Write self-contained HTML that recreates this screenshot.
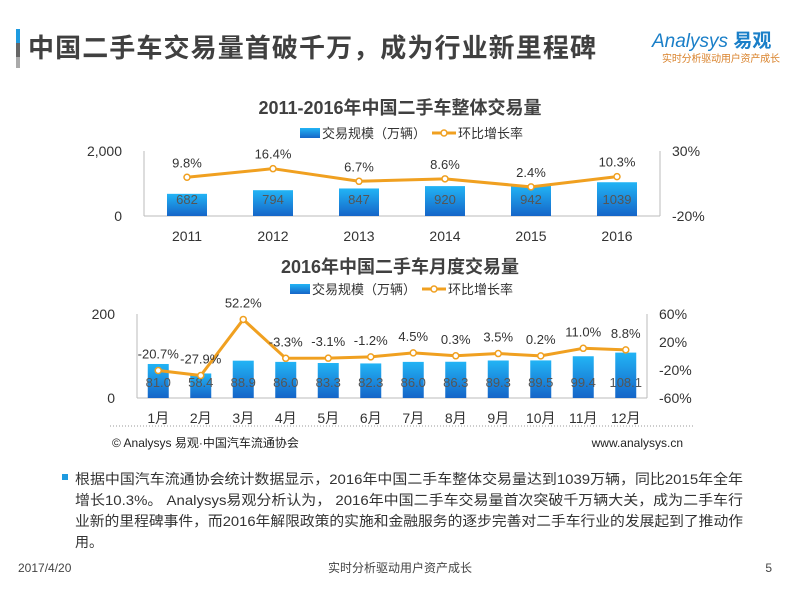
<!DOCTYPE html>
<html><head><meta charset="utf-8">
<style>
body{margin:0;width:800px;height:600px;background:#fff;overflow:hidden;font-family:"Liberation Sans","Noto Sans CJK SC",sans-serif;}
svg text{font-family:"Liberation Sans","Noto Sans CJK SC",sans-serif;}
</style></head>
<body>
<svg width="800" height="600" xmlns="http://www.w3.org/2000/svg">
<defs>
<linearGradient id="bg" x1="0" y1="0" x2="0" y2="1">
<stop offset="0" stop-color="#22b4f5"/><stop offset="1" stop-color="#1565c8"/>
</linearGradient>
</defs>
<g>
<rect x="16" y="29" width="4" height="14" fill="#1e9be0"/>
<rect x="16" y="43" width="4" height="14" fill="#666"/>
<rect x="16" y="57" width="4" height="11" fill="#aaa"/>
<text x="28" y="57" font-size="26" font-weight="bold" fill="#404040" textLength="568">中国二手车交易量首破千万，成为行业新里程碑</text>
<text x="652" y="47" font-size="19" fill="#1a7fc8" font-style="italic">Analysys <tspan font-weight="bold" font-style="normal">易观</tspan></text>
<text x="662" y="62" font-size="10" fill="#d9822b" textLength="118">实时分析驱动用户资产成长</text>
</g>
<g id="c1"></g>
<g id="c2"></g>
<g>
<line x1="110" y1="426" x2="695" y2="426" stroke="#999" stroke-dasharray="1,2"/>
<text x="112" y="447" font-size="12" fill="#222">© Analysys 易观·中国汽车流通协会</text>
<text x="683" y="447" font-size="12" fill="#222" text-anchor="end">www.analysys.cn</text>
</g>
<g font-size="14" fill="#333">
<rect x="62" y="474" width="6" height="6" fill="#1e9be0"/>
<text x="75" y="484" textLength="668" lengthAdjust="spacingAndGlyphs">根据中国汽车流通协会统计数据显示，2016年中国二手车整体交易量达到1039万辆，同比2015年全年</text>
<text x="75" y="505" textLength="668" lengthAdjust="spacingAndGlyphs">增长10.3%。 Analysys易观分析认为， 2016年中国二手车交易量首次突破千万辆大关，成为二手车行</text>
<text x="75" y="526" textLength="668" lengthAdjust="spacingAndGlyphs">业新的里程碑事件，而2016年解限政策的实施和金融服务的逐步完善对二手车行业的发展起到了推动作</text>
<text x="75" y="547">用。</text>
</g>
<g font-size="12" fill="#444">
<text x="18" y="572">2017/4/20</text>
<text x="400" y="572" text-anchor="middle">实时分析驱动用户资产成长</text>
<text x="772" y="572" text-anchor="end">5</text>
</g>
</svg>
<script>
const years=['2011','2012','2013','2014','2015','2016'];
const yearVol=[682,794,847,920,942,1039];
const yearGrowth=[9.8,16.4,6.7,8.6,2.4,10.3];
const yearLeftTicks=['0','2,000'];
const yearRightTicks=['30%','-20%'];
const months=['1月','2月','3月','4月','5月','6月','7月','8月','9月','10月','11月','12月'];
const monthVol=[81.0,58.4,88.9,86.0,83.3,82.3,86.0,86.3,89.3,89.5,99.4,108.1];
const monthGrowth=[-20.7,-27.9,52.2,-3.3,-3.1,-1.2,4.5,0.3,3.5,0.2,11.0,8.8];
const monthLeftTicks=['0','200'];
const monthRightTicks=['60%','20%','-20%','-60%'];
const NS='http://www.w3.org/2000/svg';
function el(p,t,a,txt){const e=document.createElementNS(NS,t);for(const k in a)e.setAttribute(k,a[k]);if(txt!==undefined)e.textContent=txt;p.appendChild(e);return e;}
function chart(g,o){
  const n=o.cats.length,step=(o.x1-o.x0)/n;
  const xc=i=>o.x0+step*(i+.5);
  const yl=v=>o.yb-(v-o.lmin)/(o.lmax-o.lmin)*(o.yb-o.yt);
  const yr=v=>o.yb-(v-o.rmin)/(o.rmax-o.rmin)*(o.yb-o.yt);
  const t=el(g,'text',{x:400,y:o.titleY,'font-size':18,'font-weight':'bold',fill:'#404040','text-anchor':'middle'},o.title);
  
  
  const lg=el(g,'g',{});
  
  
  el(lg,'rect',{x:o.legX,y:o.legY-6,width:20,height:10,fill:'url(#bg)'});
  el(lg,'text',{x:o.legX+22,y:o.legY+4,'font-size':13,fill:'#333'},'交易规模（万辆）');
  el(lg,'line',{x1:o.legX+132,y1:o.legY-1,x2:o.legX+156,y2:o.legY-1,stroke:'#f0a020','stroke-width':3});
  el(lg,'circle',{cx:o.legX+144,cy:o.legY-1,r:3,fill:'#fff',stroke:'#f0a020','stroke-width':1.5});
  el(lg,'text',{x:o.legX+158,y:o.legY+4,'font-size':13,fill:'#333'},'环比增长率');
  el(g,'line',{x1:o.x0,y1:o.yt,x2:o.x0,y2:o.yb,stroke:'#bbb'});
  el(g,'line',{x1:o.x1,y1:o.yt,x2:o.x1,y2:o.yb,stroke:'#bbb'});
  el(g,'line',{x1:o.x0,y1:o.yb,x2:o.x1,y2:o.yb,stroke:'#bbb'});
  o.lt.forEach((s,i)=>{const v=o.lmin+(o.lmax-o.lmin)*i/(o.lt.length-1);
    const e=el(g,'text',{x:o.x0-22,y:yl(v)+5,'font-size':14,fill:'#333','text-anchor':'end'},s);
    
    });
  o.rt.forEach((s,i)=>{const v=o.rmax-(o.rmax-o.rmin)*i/(o.rt.length-1);
    const e=el(g,'text',{x:o.x1+12,y:yr(v)+5,'font-size':14,fill:'#333'},s);
    
    });
  o.cats.forEach((c,i)=>{
    const b=el(g,'rect',{x:xc(i)-o.bw/2,y:yl(o.vol[i]),width:o.bw,height:o.yb-yl(o.vol[i]),fill:'url(#bg)'});
    
    
    const bl=el(g,'text',{x:xc(i),y:o.yb-o.valOff,'font-size':o.fs,fill:'#555','text-anchor':'middle'},o.volFmt(o.vol[i]));
    
    
    const xl=el(g,'text',{x:xc(i),y:o.yb+25,'font-size':14,fill:'#333','text-anchor':'middle'},c);
    
    
  });
  const pts=o.gr.map((v,i)=>xc(i)+','+yr(v)).join(' ');
  const pl=el(g,'polyline',{points:pts,fill:'none',stroke:'#f0a020','stroke-width':3,'stroke-linejoin':'round'});
  
  
  o.gr.forEach((v,i)=>{
    const c=el(g,'circle',{cx:xc(i),cy:yr(v),r:3,fill:'#fff',stroke:'#f0a020','stroke-width':1.5});
    
    
    const l=el(g,'text',{x:xc(i),y:yr(v)-o.lblOff,'font-size':o.fs,fill:'#333','text-anchor':'middle'},v.toFixed(1)+'%');
    
    
  });
}
chart(document.getElementById('c1'),{cats:years,vol:yearVol,gr:yearGrowth,lt:yearLeftTicks,rt:yearRightTicks,
 x0:144,x1:660,yt:151,yb:216,lmin:0,lmax:2000,rmin:-20,rmax:30,bw:40,fs:13,valOff:12,lblOff:10,
 title:'2011-2016年中国二手车整体交易量',titleY:114,legX:300,legY:134,volFmt:v=>String(v)});
chart(document.getElementById('c2'),{cats:months,vol:monthVol,gr:monthGrowth,lt:monthLeftTicks,rt:monthRightTicks,
 x0:137,x1:647,yt:314,yb:398,lmin:0,lmax:200,rmin:-60,rmax:60,bw:21,fs:13,valOff:11,lblOff:12,
 title:'2016年中国二手车月度交易量',titleY:273,legX:290,legY:290,volFmt:v=>v.toFixed(1)})
</script>
</body></html>
